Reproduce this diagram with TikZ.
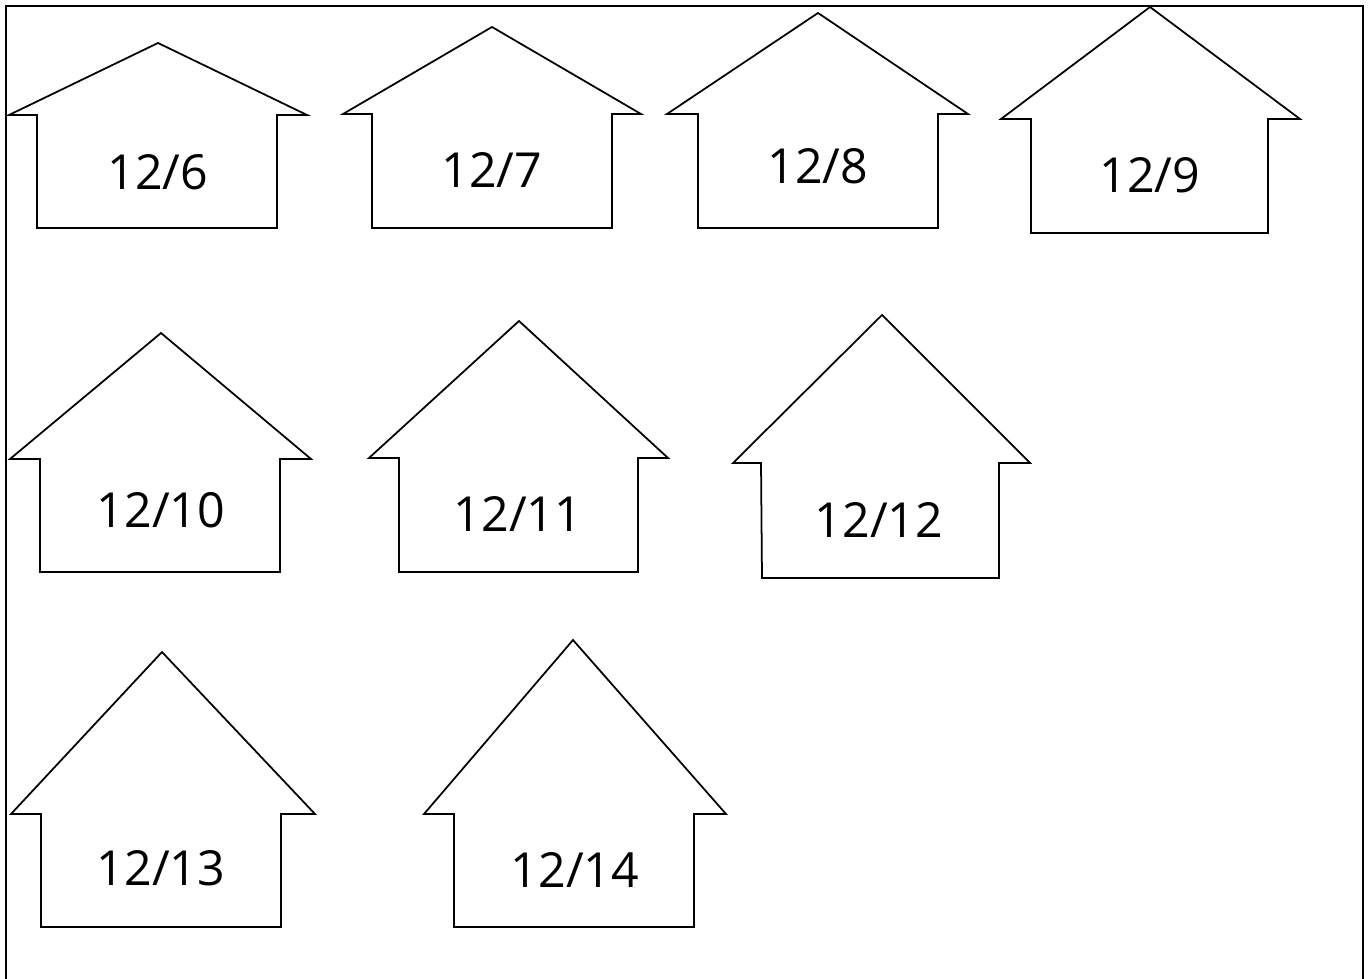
\documentclass[tikz,border=0pt]{standalone}
\usepackage{fontspec}
\setmainfont{Open Sans}
\usepackage{tikz}
\usetikzlibrary{positioning}

\tikzset{
    wall/.style={line width=1pt, line join=miter},
    datum/.style={font=\fontsize{27.5}{30}\selectfont, inner sep=0pt}
}

\begin{document}
\begin{tikzpicture}[x=0.02cm, y=-0.02cm]

    % =================================================================
    % 0. KHUNG
    % =================================================================
    \useasboundingbox (0,0) rectangle (1368,979);
    \draw[line width=1pt] (6,990) -- (6,6) -- (1363,6) -- (1363,990);

    % =================================================================
    % 1. HÀNG 1
    % =================================================================
    \draw[wall] (37,228) -- (37,115) -- (9,115) -- (158,43) -- (307,115) -- (277,115) -- (277,228) -- cycle;
    \node[datum] (d6) at (158,172) {12/6};

    \draw[wall] (372,228) -- (372,114) -- (343,114) -- (492,27) -- (641,114) -- (612,114) -- (612,228) -- cycle;
    \node[datum] (d7) at (492,170) {12/7};

    \draw[wall] (698,228) -- (698,114) -- (667,114) -- (818,13) -- (968,114) -- (938,114) -- (938,228) -- cycle;
    \node[datum] (d8) at (818,166) {12/8};

    \draw[wall] (1031,233) -- (1031,119) -- (1001,119) -- (1150,7) -- (1300,119) -- (1268,119) -- (1268,233) -- cycle;
    \node[datum] (d9) at (1150,175) {12/9};

    % =================================================================
    % 2. HÀNG 2
    % =================================================================
    \draw[wall] (40,572) -- (40,459) -- (10,459) -- (161,333) -- (311,459) -- (280,459) -- (280,572) -- cycle;
    \node[datum] (d10) at (161,510) {12/10};

    \draw[wall] (399,572) -- (399,458) -- (369,458) -- (519,321) -- (668,458) -- (638,458) -- (638,572) -- cycle;
    \node[datum] (d11) at (518,514) {12/11};

    \draw[wall] (762,578) -- (761,463) -- (733,463) -- (882,315) -- (1030,463) -- (999,463) -- (999,578) -- cycle;
    \node[datum] (d12) at (879,520) {12/12};

    % =================================================================
    % 3. HÀNG 3
    % =================================================================
    \draw[wall] (41,927) -- (41,814) -- (11,814) -- (162,652) -- (315,814) -- (281,814) -- (281,927) -- cycle;
    \node[datum] (d13) at (161,868) {12/13};

    \draw[wall] (454,927) -- (454,814) -- (424,814) -- (573,640) -- (726,814) -- (694,814) -- (694,927) -- cycle;
    \node[datum] (d14) at (575,870) {12/14};

\end{tikzpicture}
\end{document}
